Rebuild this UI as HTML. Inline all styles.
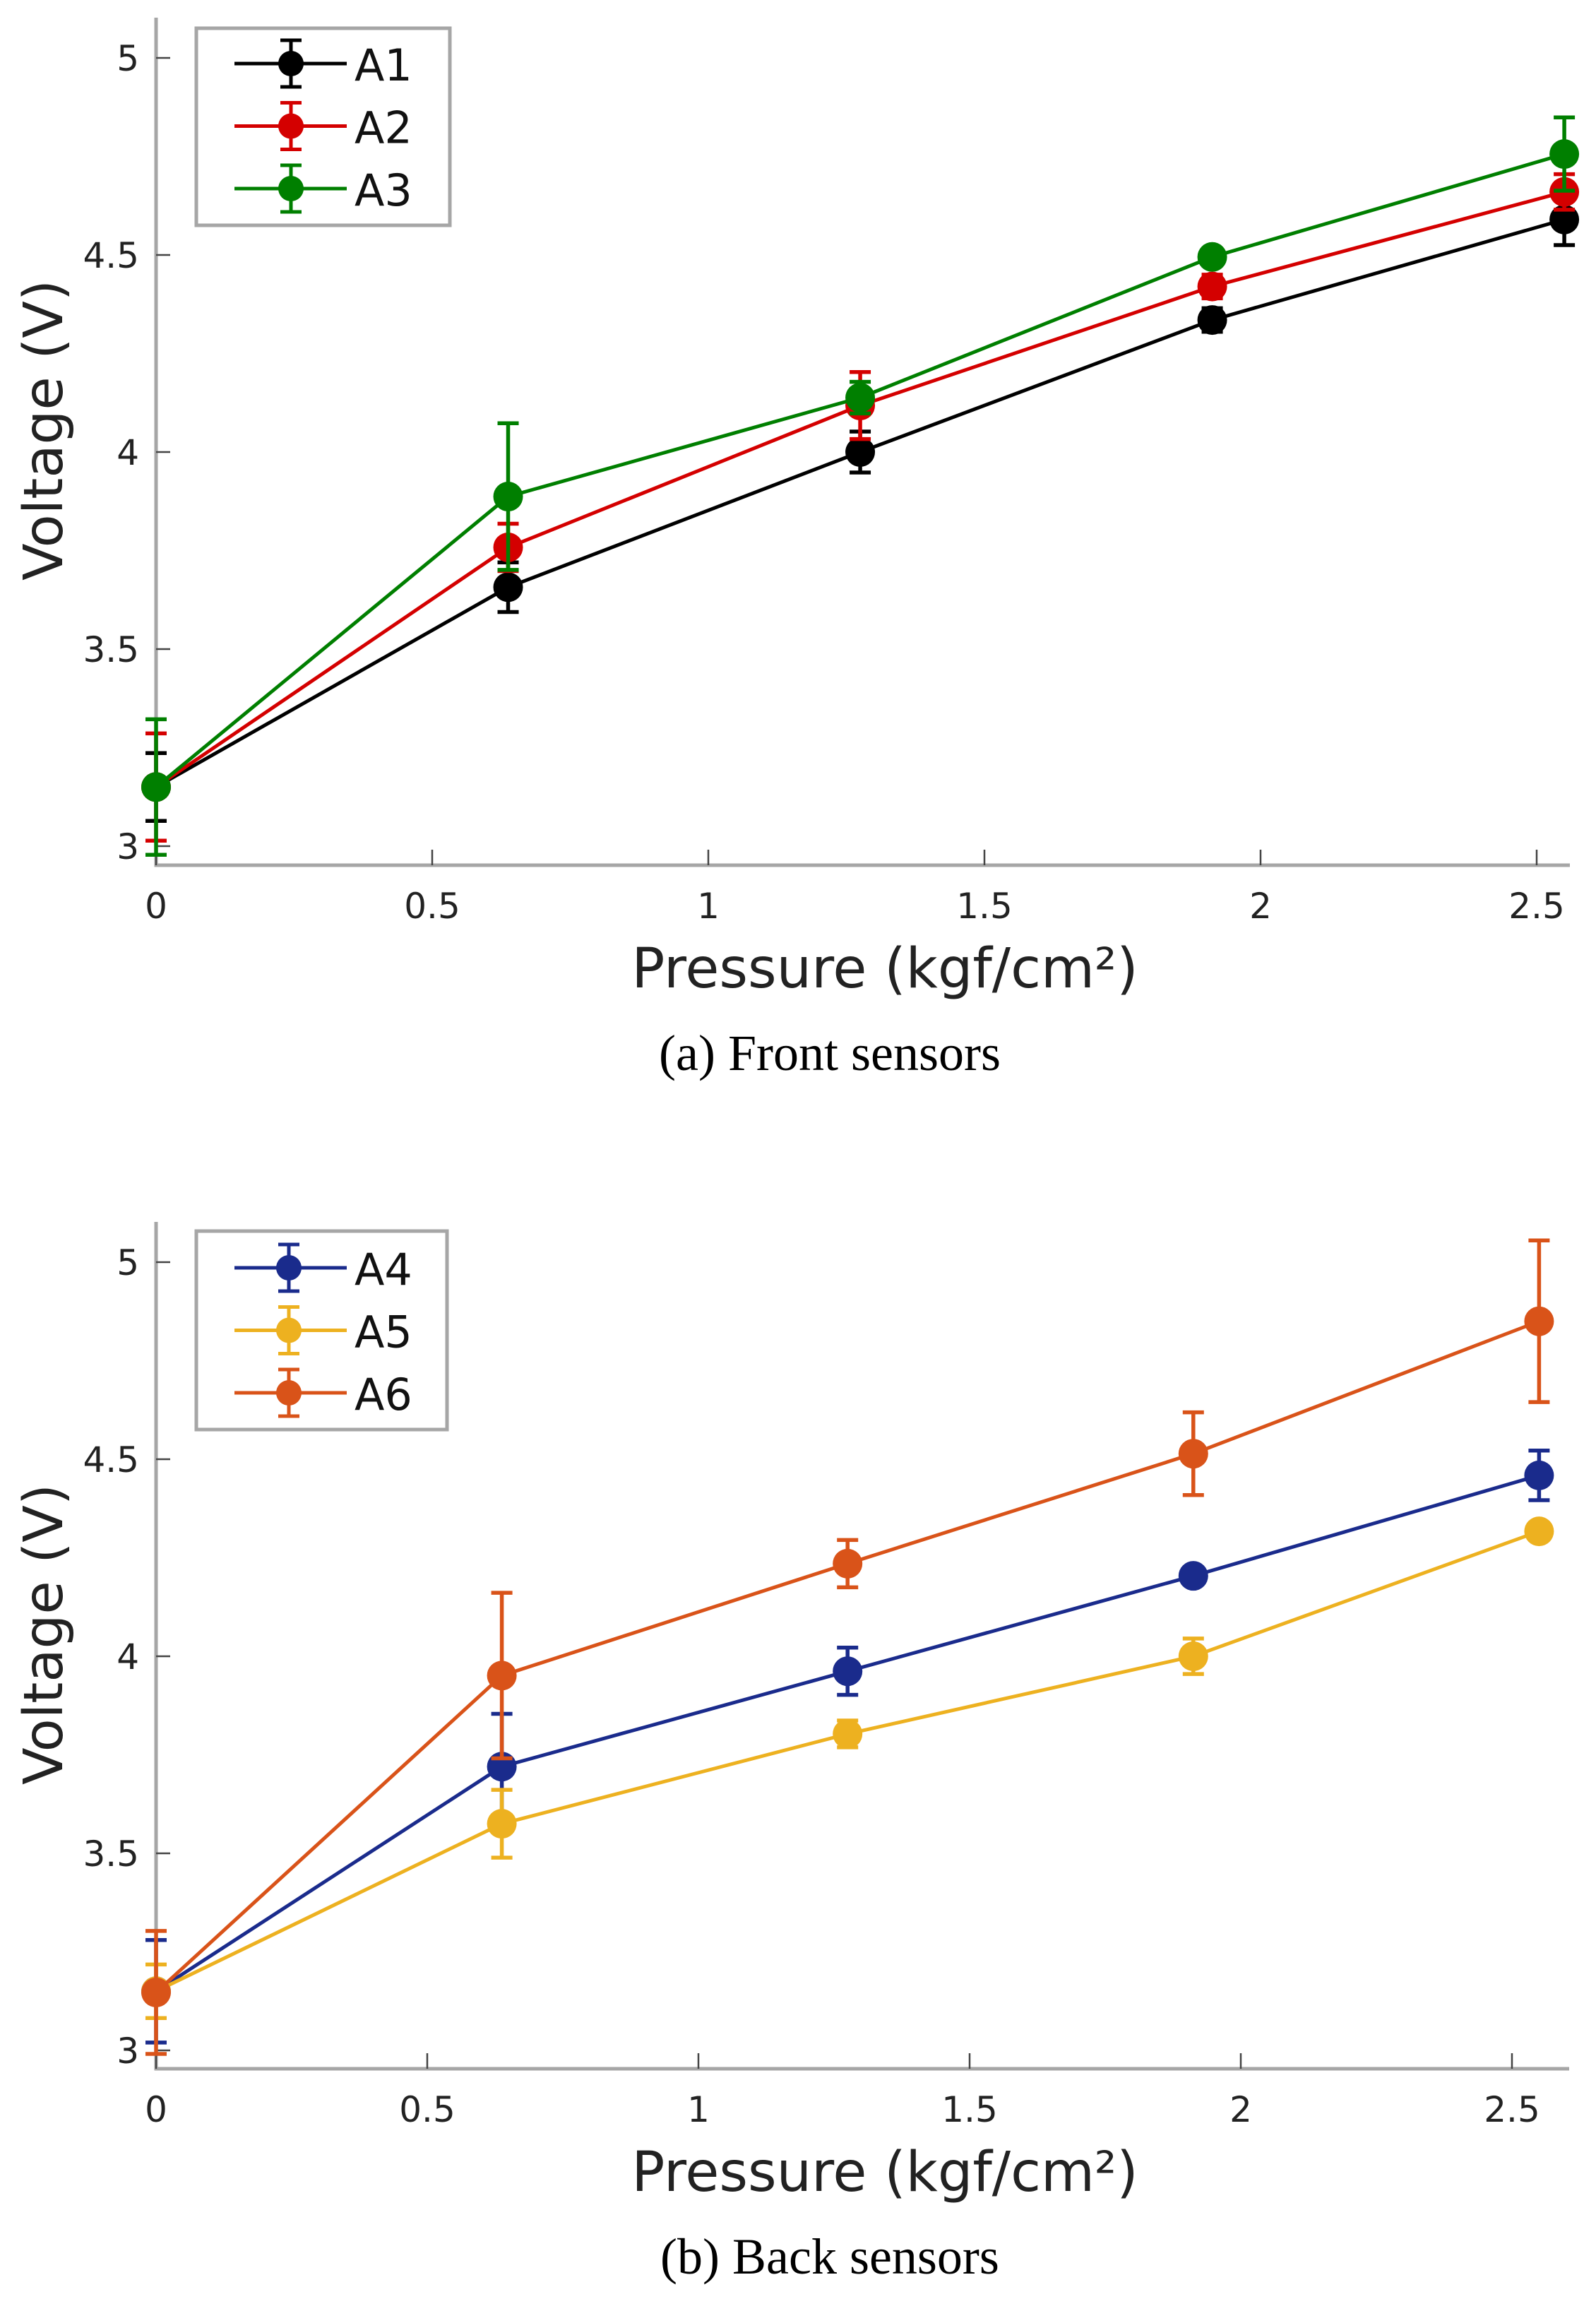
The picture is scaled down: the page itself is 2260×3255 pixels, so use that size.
<!DOCTYPE html>
<html><head><meta charset="utf-8"><style>
html,body{margin:0;padding:0;background:#fff;}
svg{display:block;}
text{font-family:"DejaVu Sans","Liberation Sans",sans-serif;}
.cap{font-family:"Liberation Serif",serif;}
</style></head><body>
<svg id="chart" width="2260" height="3255" viewBox="0 0 2260 3255" xmlns="http://www.w3.org/2000/svg"></svg>
<script>
const xVals = [0, 0.6375, 1.275, 1.9125, 2.55];
const xTicks = [0, 0.5, 1, 1.5, 2, 2.5];
const xTickLabels = ['0', '0.5', '1', '1.5', '2', '2.5'];
const yTicks = [3, 3.5, 4, 4.5, 5];
const yTickLabels = ['3', '3.5', '4', '4.5', '5'];
const seriesNamesA = ['A1', 'A2', 'A3'];
const seriesNamesB = ['A4', 'A5', 'A6'];
const a1 = [3.15, 3.657, 4.0, 4.335, 4.59];
const a1Err = [0.086, 0.063, 0.052, 0.03, 0.065];
const a2 = [3.15, 3.758, 4.118, 4.42, 4.66];
const a2Err = [0.136, 0.06, 0.085, 0.03, 0.045];
const a3 = [3.15, 3.887, 4.138, 4.495, 4.756];
const a3Err = [0.172, 0.186, 0.04, 0.02, 0.093];
const a4 = [3.15, 3.72, 3.962, 4.204, 4.459];
const a4Err = [0.13, 0.134, 0.06, 0.02, 0.063];
const a5 = [3.15, 3.575, 3.803, 4.0, 4.317];
const a5Err = [0.068, 0.086, 0.034, 0.045, 0.02];
const a6 = [3.147, 3.951, 4.235, 4.514, 4.85];
const a6Err = [0.156, 0.21, 0.06, 0.105, 0.205];

const NS = 'http://www.w3.org/2000/svg';
const svg = document.getElementById('chart');
function mk(tag, attrs, parent) {
  const e = document.createElementNS(NS, tag);
  for (const k in attrs) e.setAttribute(k, attrs[k]);
  (parent || svg).appendChild(e);
  return e;
}

function drawPanel(cfg) {
  const g = mk('g', {});
  
  
  const X = v => cfg.x0 + v * cfg.xs;
  const Y = v => cfg.y5 + (5 - v) * cfg.ys;
  const ax = mk('path', {d: `M${cfg.x0} ${cfg.top} V${cfg.bottom} H${cfg.right}`, stroke: '#a6a6a6', 'stroke-width': 5, fill: 'none'}, g);
  
  
  yTicks.forEach((t, i) => {
    const y = Y(t);
    const tk = mk('line', {x1: cfg.x0, x2: cfg.x0 + 20, y1: y, y2: y, stroke: '#444', 'stroke-width': 2.5}, g);
    
    
    const tl = mk('text', {x: 197, y: y + 18, 'text-anchor': 'end', 'font-size': 50, fill: '#222'}, g);
    tl.textContent = yTickLabels[i];
    
    
  });
  xTicks.forEach((t, i) => {
    const x = X(t);
    const tk = mk('line', {x1: x, x2: x, y1: cfg.bottom, y2: cfg.bottom - 22, stroke: '#444', 'stroke-width': 2.5}, g);
    
    
    const tl = mk('text', {x: x, y: cfg.bottom + 75, 'text-anchor': 'middle', 'font-size': 50, fill: '#222'}, g);
    tl.textContent = xTickLabels[i];
    
    
  });
  cfg.series.forEach(s => {
    const sg = mk('g', {}, g);
    
    
    const pts = xVals.map((xv, i) => X(xv) + ',' + Y(s.vals[i])).join(' ');
    const pl = mk('polyline', {points: pts, fill: 'none', stroke: s.color, 'stroke-width': 5}, sg);
    
    
    xVals.forEach((xv, i) => {
      const x = X(xv), yl = Y(s.vals[i] - s.err[i]), yh = Y(s.vals[i] + s.err[i]);
      const eb = mk('path', {d: `M${x} ${yl} V${yh} M${x - 15} ${yl} H${x + 15} M${x - 15} ${yh} H${x + 15}`, stroke: s.color, 'stroke-width': 5.5, fill: 'none'}, sg);
      
      
      const c = mk('circle', {cx: x, cy: Y(s.vals[i]), r: 21, fill: s.color}, sg);
      
      
    });
  });
  const lg = mk('g', {}, g);
  
  
  const lb = mk('rect', {x: 278, y: cfg.legTop, width: cfg.legW, height: cfg.legH, fill: '#fff', stroke: '#a6a6a6', 'stroke-width': 5}, lg);
  
  
  cfg.series.forEach((s, i) => {
    const y = cfg.legRow0 + i * cfg.legStep;
    const eg = mk('g', {}, lg);
    
    
    mk('path', {d: `M332 ${y} H491 M${cfg.legMx} ${y - 33} V${y + 33} M${cfg.legMx - 15} ${y - 33} H${cfg.legMx + 15} M${cfg.legMx - 15} ${y + 33} H${cfg.legMx + 15}`, stroke: s.color, 'stroke-width': 5, fill: 'none'}, eg);
    mk('circle', {cx: cfg.legMx, cy: y, r: 18, fill: s.color}, eg);
    const t = mk('text', {x: 502, y: y + 24, 'font-size': 62, fill: '#111'}, eg);
    t.textContent = s.name;
  });
  const yt = mk('text', {x: 0, y: 0, transform: `translate(88 ${cfg.y5 + 527}) rotate(-90)`, 'text-anchor': 'middle', 'font-size': 77, fill: '#222'}, g);
  yt.textContent = 'Voltage (V)';
  
  
  const xt = mk('text', {x: 1253, y: cfg.bottom + 173, 'text-anchor': 'middle', 'font-size': 78, fill: '#222'}, g);
  xt.textContent = 'Pressure (kgf/cm²)';
  
  
  const cp = mk('text', {x: 1175, y: cfg.bottom + 290, 'text-anchor': 'middle', 'font-size': 72, fill: '#000', class: 'cap'}, g);
  cp.textContent = cfg.caption;
  
  
}

drawPanel({name: 'front-sensors-chart', x0: 221, xs: 782, y5: 82, ys: 558, top: 25, bottom: 1225, right: 2223,
  legTop: 40, legW: 359, legH: 279, legRow0: 90, legStep: 88.5, legMx: 412, caption: '(a)  Front sensors',
  series: [{name: seriesNamesA[0], vals: a1, err: a1Err, color: '#000000'},
           {name: seriesNamesA[1], vals: a2, err: a2Err, color: '#d40000'},
           {name: seriesNamesA[2], vals: a3, err: a3Err, color: '#007f00'}]});
drawPanel({name: 'back-sensors-chart', x0: 221, xs: 768, y5: 1787, ys: 558, top: 1730, bottom: 2929, right: 2222,
  legTop: 1743, legW: 355, legH: 281, legRow0: 1795, legStep: 88.5, legMx: 409, caption: '(b)  Back sensors',
  series: [{name: seriesNamesB[0], vals: a4, err: a4Err, color: '#1a2b8c'},
           {name: seriesNamesB[1], vals: a5, err: a5Err, color: '#edb120'},
           {name: seriesNamesB[2], vals: a6, err: a6Err, color: '#d95319'}]});
</script>
</body></html>
